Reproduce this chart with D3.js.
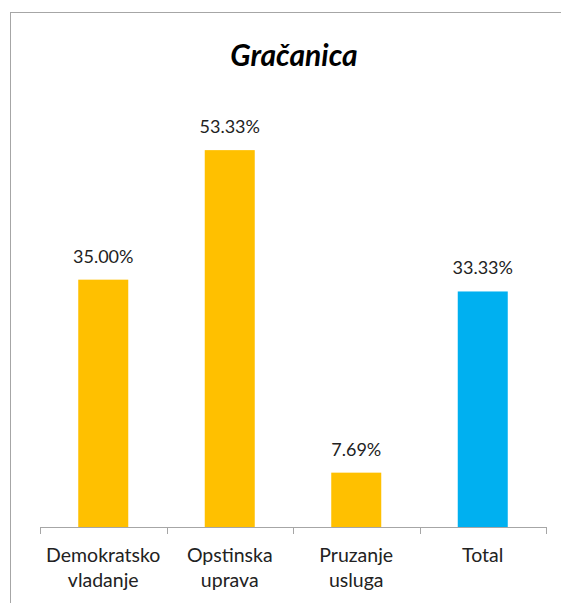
<!DOCTYPE html>
<html>
<head>
<meta charset="utf-8">
<title>Gračanica</title>
<script src="https://d3js.org/d3.v7.min.js"></script>
<style>
  body { margin: 0; background: #fff; }
  svg { display: block; font-family: Lato, "Open Sans", sans-serif; }
</style>
</head>
<body>
<svg width="561" height="603"></svg>
<script>
// chart data
var categories = [["Demokratsko", "vladanje"], ["Opstinska", "uprava"], ["Pruzanje", "usluga"], ["Total"]];
var values = [35.00, 53.33, 7.69, 33.33];
var barColors = ["#ffc000", "#ffc000", "#ffc000", "#00b0f0"];
var chartTitle = "Gračanica";

var svg = d3.select("svg");

// outer chart frame
svg.append("rect")
   .attr("x", 10.5).attr("y", 12.5)
   .attr("width", 570).attr("height", 620)
   .attr("fill", "none")
   .attr("stroke", "#a6a6a6");

// title
svg.append("text")
   .attr("x", 294).attr("y", 66)
   .attr("text-anchor", "middle")
   .attr("font-size", "30px")
   .attr("font-weight", "bold")
   .attr("font-style", "italic")
   .attr("fill", "#000")
   .text(chartTitle);

var plotLeft = 40, plotRight = 546, plotTop = 103, plotBottom = 527;

var xScale = d3.scaleBand()
    .domain(d3.range(values.length))
    .range([plotLeft, plotRight]);
var yScale = d3.scaleLinear().domain([0, 60]).range([plotBottom, plotTop]);
var barW = 50;

// bars
svg.selectAll(".bar")
   .data(values)
   .enter().append("rect")
   .attr("class", "bar")
   .attr("x", function(d, i) { return xScale(i) + xScale.bandwidth() / 2 - barW / 2; })
   .attr("y", function(d) { return yScale(d); })
   .attr("width", barW)
   .attr("height", function(d) { return plotBottom - yScale(d); })
   .attr("fill", function(d, i) { return barColors[i]; });

// value labels
svg.selectAll(".lbl")
   .data(values)
   .enter().append("text")
   .attr("class", "lbl")
   .attr("x", function(d, i) { return xScale(i) + xScale.bandwidth() / 2; })
   .attr("y", function(d) { return yScale(d) - 17; })
   .attr("text-anchor", "middle")
   .attr("font-size", "18px")
   .attr("fill", "#222")
   .text(function(d) { return d.toFixed(2) + "%"; });

// x axis line + ticks between categories
var axis = svg.append("g");
axis.append("line")
    .attr("x1", plotLeft).attr("x2", plotRight)
    .attr("y1", plotBottom + 0.5).attr("y2", plotBottom + 0.5)
    .attr("stroke", "#a6a6a6");
axis.selectAll(".tick")
    .data(d3.range(values.length + 1))
    .enter().append("line")
    .attr("x1", function(i) { return Math.round(plotLeft + i * xScale.bandwidth()) + 0.5; })
    .attr("x2", function(i) { return Math.round(plotLeft + i * xScale.bandwidth()) + 0.5; })
    .attr("y1", plotBottom).attr("y2", plotBottom + 7)
    .attr("stroke", "#a6a6a6");

// category labels
var cat = svg.selectAll(".cat")
   .data(categories)
   .enter().append("text")
   .attr("class", "cat")
   .attr("text-anchor", "middle")
   .attr("font-size", "19.5px")
   .attr("fill", "#222");
cat.selectAll("tspan")
   .data(function(d, i) { return d.map(function(s) { return { s: s, i: i }; }); })
   .enter().append("tspan")
   .attr("x", function(d) { return xScale(d.i) + xScale.bandwidth() / 2; })
   .attr("y", function(d, j) { return 562 + j * 25; })
   .text(function(d) { return d.s; });
</script>
</body>
</html>
